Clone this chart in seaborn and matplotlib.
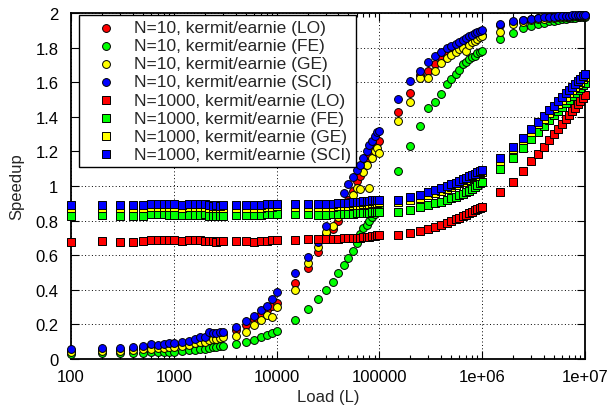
import numpy as np
import pandas as pd
import matplotlib
matplotlib.use("Agg")
import matplotlib.pyplot as plt
import seaborn as sns
from matplotlib.ticker import FixedLocator, FixedFormatter, LogLocator, NullFormatter

# ---------------- data ----------------
load_a = [100, 200, 300, 400, 500, 600, 700, 800, 900, 1000]
load_b = [1200, 1400, 1600, 1800, 2000, 2200, 2400, 2600, 2800, 3000]
load_c = [4000, 5000, 6000, 7000, 8000, 9000, 10000]
load_d = [15000, 20000, 25000, 30000, 35000, 40000, 45000, 50000, 55000,
          60000, 65000, 70000, 75000, 80000, 85000, 90000, 95000, 100000]
load_e = [150000, 200000, 250000, 300000, 350000, 400000, 450000, 500000, 550000,
          600000, 650000, 700000, 750000, 800000, 850000, 900000, 950000, 1000000]
load_f = [1500000, 2000000, 2500000, 3000000, 3500000, 4000000, 4500000, 5000000, 5500000,
          6000000, 6500000, 7000000, 7500000, 8000000, 8500000, 9000000, 9500000, 10000000]
loads = load_a + load_b + load_c + load_d + load_e + load_f

n10_lo = [0.045, 0.050, 0.054, 0.058, 0.062, 0.068, 0.070, 0.073, 0.076, 0.078,
          0.088, 0.092, 0.102, 0.110, 0.112, 0.135, 0.132, 0.138, 0.142, 0.145,
          0.168, 0.198, 0.232, 0.262, 0.285, 0.305, 0.326,
          0.437, 0.526, 0.617, 0.720, 0.750, 0.800, 0.860, 0.920, 0.970, 1.030, 1.060, 1.110, 1.150, 1.180, 1.210, 1.230, 1.250, 1.260,
          1.426, 1.536, 1.640, 1.667, 1.705, 1.740, 1.760, 1.780, 1.795, 1.810, 1.820, 1.830, 1.840, 1.850, 1.860, 1.865, 1.870, 1.875,
          1.930, 1.946, 1.957, 1.964, 1.969, 1.972, 1.974, 1.976, 1.978, 1.980, 1.981, 1.982, 1.983, 1.984, 1.985, 1.986, 1.987, 1.988]

n10_fe = [0.030, 0.032, 0.034, 0.035, 0.036, 0.038, 0.039, 0.040, 0.041, 0.042,
          0.046, 0.050, 0.053, 0.056, 0.060, 0.063, 0.067, 0.070, 0.073, 0.077,
          0.087, 0.096, 0.112, 0.125, 0.139, 0.150, 0.160,
          0.226, 0.289, 0.347, 0.400, 0.443, 0.497, 0.543, 0.582, 0.622, 0.670, 0.720, 0.757, 0.775, 0.796, 0.820, 0.840, 0.858, 0.877,
          1.088, 1.230, 1.349, 1.449, 1.484, 1.532, 1.590, 1.618, 1.647, 1.672, 1.705, 1.715, 1.734, 1.744, 1.753, 1.767, 1.777, 1.782,
          1.850, 1.884, 1.911, 1.927, 1.936, 1.945, 1.951, 1.956, 1.960, 1.964, 1.967, 1.969, 1.971, 1.973, 1.975, 1.976, 1.977, 1.978]

n10_ge = [0.040, 0.045, 0.048, 0.052, 0.055, 0.060, 0.062, 0.065, 0.067, 0.068,
          0.078, 0.082, 0.090, 0.098, 0.100, 0.112, 0.115, 0.118, 0.122, 0.128,
          0.135, 0.154, 0.199, 0.227, 0.254, 0.241, 0.300,
          0.400, 0.555, 0.645, 0.732, 0.770, 0.820, 0.870, 0.910, 0.950, 0.990, 0.980, 1.080, 1.120, 0.990, 1.160, 1.200, 1.220, 1.190,
          1.378, 1.487, 1.624, 1.624, 1.667, 1.710, 1.740, 1.760, 1.775, 1.790, 1.800, 1.780, 1.815, 1.830, 1.840, 1.850, 1.860, 1.868,
          1.893, 1.935, 1.950, 1.958, 1.963, 1.967, 1.970, 1.972, 1.974, 1.976, 1.978, 1.979, 1.980, 1.981, 1.982, 1.983, 1.984, 1.985]

n10_sci = [0.055, 0.062, 0.066, 0.070, 0.077, 0.085, 0.083, 0.087, 0.090, 0.092,
           0.100, 0.104, 0.118, 0.128, 0.125, 0.155, 0.148, 0.150, 0.154, 0.158,
           0.183, 0.218, 0.250, 0.285, 0.308, 0.347, 0.385,
           0.500, 0.592, 0.675, 0.767, 0.850, 0.900, 0.960, 1.010, 1.050, 1.090, 1.120, 1.160, 1.200, 1.235, 1.260, 1.290, 1.310, 1.320,
           1.503, 1.605, 1.667, 1.719, 1.753, 1.776, 1.796, 1.811, 1.822, 1.835, 1.845, 1.855, 1.865, 1.875, 1.883, 1.890, 1.896, 1.902,
           1.936, 1.951, 1.961, 1.968, 1.972, 1.975, 1.977, 1.979, 1.981, 1.983, 1.984, 1.985, 1.986, 1.987, 1.988, 1.989, 1.990, 1.991]

n1000_lo = [0.678, 0.680, 0.679, 0.679, 0.680, 0.686, 0.688, 0.687, 0.688, 0.686,
            0.683, 0.690, 0.686, 0.685, 0.684, 0.682, 0.680, 0.679, 0.680, 0.680,
            0.680, 0.680, 0.679, 0.681, 0.684, 0.685, 0.686,
            0.690, 0.692, 0.693, 0.694, 0.695, 0.696, 0.697, 0.698, 0.699, 0.700, 0.702, 0.704, 0.706, 0.708, 0.710, 0.712, 0.714, 0.716,
            0.717, 0.728, 0.740, 0.751, 0.765, 0.776, 0.787, 0.797, 0.807, 0.817, 0.826, 0.835, 0.843, 0.852, 0.860, 0.867, 0.874, 0.880,
            0.963, 1.025, 1.089, 1.143, 1.185, 1.227, 1.266, 1.300, 1.331, 1.359, 1.385, 1.410, 1.432, 1.453, 1.473, 1.492, 1.509, 1.526]

n1000_fe = [0.828, 0.830, 0.826, 0.827, 0.828, 0.838, 0.838, 0.836, 0.832, 0.833,
            0.830, 0.832, 0.833, 0.835, 0.836, 0.828, 0.826, 0.828, 0.827, 0.828,
            0.830, 0.830, 0.832, 0.832, 0.836, 0.838, 0.840,
            0.838, 0.836, 0.834, 0.835, 0.836, 0.838, 0.839, 0.840, 0.841, 0.842, 0.843, 0.844, 0.845, 0.846, 0.847, 0.848, 0.850, 0.851,
            0.848, 0.863, 0.877, 0.888, 0.899, 0.909, 0.919, 0.929, 0.938, 0.947, 0.956, 0.965, 0.973, 0.982, 0.995, 1.005, 1.015, 1.025,
            1.098, 1.162, 1.218, 1.272, 1.314, 1.349, 1.380, 1.408, 1.434, 1.458, 1.480, 1.500, 1.519, 1.537, 1.553, 1.569, 1.584, 1.598]

n1000_ge = [0.870, 0.872, 0.870, 0.871, 0.872, 0.878, 0.880, 0.878, 0.880, 0.879,
            0.874, 0.878, 0.880, 0.878, 0.876, 0.872, 0.870, 0.871, 0.870, 0.872,
            0.872, 0.873, 0.874, 0.875, 0.878, 0.880, 0.882,
            0.880, 0.878, 0.877, 0.878, 0.880, 0.882, 0.884, 0.886, 0.888, 0.890, 0.892, 0.894, 0.896, 0.898, 0.900, 0.902, 0.904, 0.906,
            0.905, 0.918, 0.932, 0.946, 0.960, 0.972, 0.984, 0.995, 1.006, 1.016, 1.026, 1.035, 1.044, 1.052, 1.060, 1.067, 1.074, 1.080,
            1.145, 1.212, 1.264, 1.315, 1.356, 1.390, 1.420, 1.448, 1.473, 1.496, 1.517, 1.537, 1.555, 1.572, 1.588, 1.603, 1.617, 1.630]

n1000_sci = [0.888, 0.890, 0.888, 0.888, 0.888, 0.896, 0.896, 0.895, 0.896, 0.897,
             0.892, 0.896, 0.896, 0.896, 0.895, 0.888, 0.886, 0.888, 0.887, 0.888,
             0.888, 0.888, 0.889, 0.890, 0.894, 0.896, 0.898,
             0.898, 0.897, 0.896, 0.897, 0.898, 0.900, 0.902, 0.904, 0.906, 0.908, 0.910, 0.912, 0.914, 0.915, 0.917, 0.918, 0.919, 0.920,
             0.921, 0.934, 0.948, 0.963, 0.975, 0.987, 0.998, 1.009, 1.019, 1.029, 1.038, 1.047, 1.055, 1.063, 1.071, 1.079, 1.087, 1.094,
             1.162, 1.227, 1.277, 1.329, 1.368, 1.405, 1.437, 1.465, 1.490, 1.513, 1.535, 1.555, 1.573, 1.590, 1.606, 1.621, 1.635, 1.650]

series_names = ["N=10, kermit/earnie (LO)", "N=10, kermit/earnie (FE)",
                "N=10, kermit/earnie (GE)", "N=10, kermit/earnie (SCI)",
                "N=1000, kermit/earnie (LO)", "N=1000, kermit/earnie (FE)",
                "N=1000, kermit/earnie (GE)", "N=1000, kermit/earnie (SCI)"]
series_values = [n10_lo, n10_fe, n10_ge, n10_sci, n1000_lo, n1000_fe, n1000_ge, n1000_sci]
series_colors = ["#ff0000", "#00ff00", "#ffff00", "#0000ff",
                 "#ff0000", "#00ff00", "#ffff00", "#0000ff"]
series_markers = ["o", "o", "o", "o", "s", "s", "s", "s"]

x_ticks = [100, 1000, 10000, 100000, 1000000, 10000000]
x_tick_labels = ["100", "1000", "10000", "100000", "1e+06", "1e+07"]
y_ticks = [0, 0.2, 0.4, 0.6, 0.8, 1.0, 1.2, 1.4, 1.6, 1.8, 2.0]
y_tick_labels = ["0", "0.2", "0.4", "0.6", "0.8", "1", "1.2", "1.4", "1.6", "1.8", "2"]

frames = []
for name, vals in zip(series_names, series_values):
    frames.append(pd.DataFrame({"Load": loads, "Speedup": vals, "series": name}))
df = pd.concat(frames, ignore_index=True)

# ---------------- plot ----------------
sns.set_style("ticks")
plt.rcParams['font.family'] = ['Liberation Sans', 'DejaVu Sans']
FS = 12
LFS = 12.5
plt.rcParams['font.size'] = FS

W, H = 611, 406
fig = plt.figure(figsize=(W / 100, H / 100), dpi=100)
L, R, T, B = 71, 585, 14, 360
ax = fig.add_axes([L / W, 1 - B / H, (R - L) / W, (B - T) / H])

for i, (name, color, marker) in enumerate(zip(series_names, series_colors, series_markers)):
    sub = df[df["series"] == name]
    sns.scatterplot(data=sub, x="Load", y="Speedup", color=color, marker=marker,
                    s=32, edgecolor="black", linewidth=0.7, label=name, ax=ax,
                    clip_on=False, zorder=3 + i)

ax.set_xscale("log")
ax.set_xlim(100, 1e7)
ax.set_ylim(0, 2)
ax.xaxis.set_major_locator(FixedLocator(x_ticks))
ax.xaxis.set_major_formatter(FixedFormatter(x_tick_labels))
ax.xaxis.set_minor_locator(LogLocator(base=10, subs=range(2, 10)))
ax.xaxis.set_minor_formatter(NullFormatter())
ax.yaxis.set_major_locator(FixedLocator(y_ticks))
ax.yaxis.set_major_formatter(FixedFormatter(y_tick_labels))

ax.set_axisbelow(True)
ax.grid(True, which="major", color="black", linestyle=(0, (1, 2.5)), linewidth=0.7)
ax.tick_params(which="both", direction="in", top=True, right=True, color="black",
               labelsize=FS, labelcolor="black")
ax.tick_params(which="major", length=6, width=0.8)
ax.tick_params(axis="y", which="major", pad=9)
ax.tick_params(axis="x", which="major", pad=7)
ax.tick_params(which="minor", length=3, width=0.8)
for sp in ax.spines.values():
    sp.set_visible(True)
    sp.set_color("black")
    sp.set_linewidth(1.3)

ax.set_xlabel("Load (L)", fontsize=FS, labelpad=4)
ax.set_ylabel("Speedup", fontsize=FS, labelpad=8)

u = LFS * 100 / 72.0  # px per font-size unit
bp_px, hl_px, htp_px = 5.0, 44.0, 5.5
leg = ax.legend(loc="upper left", bbox_to_anchor=(8 / (R - L), 1 - 2 / (B - T)),
                frameon=True, fancybox=False, edgecolor="black", framealpha=1,
                borderpad=bp_px / u, labelspacing=0.17, handlelength=hl_px / u,
                handletextpad=htp_px / u, borderaxespad=0, fontsize=LFS, scatterpoints=1)
leg.get_frame().set_linewidth(1.0)
leg.set_zorder(20)

fig.savefig("out.png", dpi=100)
